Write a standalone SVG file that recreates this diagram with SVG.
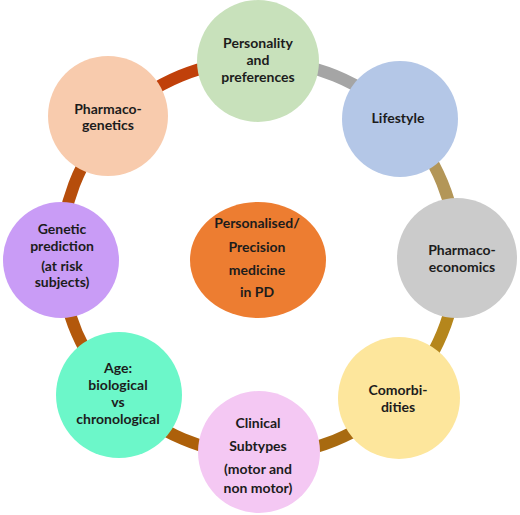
<svg xmlns="http://www.w3.org/2000/svg" width="520" height="515" viewBox="0 0 520 515">
<style>
.c{fill:none;stroke-width:12}
.t{font-family:Lato,"Open Sans","Liberation Sans",sans-serif;font-weight:bold;font-size:14px;fill:#1c1c1c;text-anchor:middle}
</style>
<rect width="520" height="515" fill="#ffffff"/>
<g id="connectors">
<path class="c" stroke="#a5a5a5" d="M258,61 A197,197 0 0 1 400,119"/>
<path class="c" stroke="#b39658" d="M400,119 A197,197 0 0 1 457,258"/>
<path class="c" stroke="#b5861c" d="M457,258 A197,197 0 0 1 399,398"/>
<path class="c" stroke="#a86a10" d="M399,398 A197,197 0 0 1 259,455"/>
<path class="c" stroke="#ad600a" d="M259,455 A197,197 0 0 1 119,395"/>
<path class="c" stroke="#b3580c" d="M119,395 A197,197 0 0 1 61,260"/>
<path class="c" stroke="#b64d0b" d="M61,260 A197,197 0 0 1 115,120"/>
<path class="c" stroke="#c0400a" d="M115,120 A197,197 0 0 1 258,61"/>
</g>
<g id="personality">
<circle cx="258" cy="61" r="61" fill="#c8e1bb"/>
<text class="t" x="258" y="48">Personality</text>
<text class="t" x="258" y="65">and</text>
<text class="t" x="258" y="82">preferences</text>
</g>
<g id="lifestyle">
<circle cx="400" cy="119" r="58" fill="#b4c7e7"/>
<text class="t" x="398" y="123" fill="#141a30">Lifestyle</text>
</g>
<g id="pharmacoeconomics">
<circle cx="457" cy="258" r="60" fill="#cbcbcb"/>
<text class="t" x="462" y="255">Pharmaco-</text>
<text class="t" x="462" y="272">economics</text>
</g>
<g id="comorbidities">
<circle cx="399" cy="398" r="61" fill="#fde69c"/>
<text class="t" x="398" y="395">Comorbi-</text>
<text class="t" x="398" y="412">dities</text>
</g>
<g id="clinical">
<circle cx="259" cy="452" r="61" fill="#f4c8f3"/>
<text class="t" x="258" y="428">Clinical</text>
<text class="t" x="258" y="451">Subtypes</text>
<text class="t" x="258" y="474">(motor  and</text>
<text class="t" x="258" y="493">non motor)</text>
</g>
<g id="age">
<circle cx="119" cy="395" r="63" fill="#6cf7c9"/>
<text class="t" x="118" y="373">Age:</text>
<text class="t" x="118" y="390">biological</text>
<text class="t" x="118" y="407">vs</text>
<text class="t" x="118" y="424">chronological</text>
</g>
<g id="genetic">
<circle cx="61" cy="260" r="58" fill="#c99cf6"/>
<text class="t" x="62" y="234">Genetic</text>
<text class="t" x="62" y="251">prediction</text>
<text class="t" x="62" y="271">(at risk</text>
<text class="t" x="62" y="287">subjects)</text>
</g>
<g id="pharmacogenetics">
<circle cx="108" cy="116" r="60" fill="#f8cbad"/>
<text class="t" x="108" y="114">Pharmaco-</text>
<text class="t" x="108" y="130">genetics</text>
</g>
<g id="center">
<ellipse cx="258" cy="260" rx="68" ry="58" fill="#ed7d31"/>
<text class="t" x="257" y="228">Personalised/</text>
<text class="t" x="257" y="252">Precision</text>
<text class="t" x="257" y="275">medicine</text>
<text class="t" x="257" y="297">in PD</text>
</g>
</svg>
